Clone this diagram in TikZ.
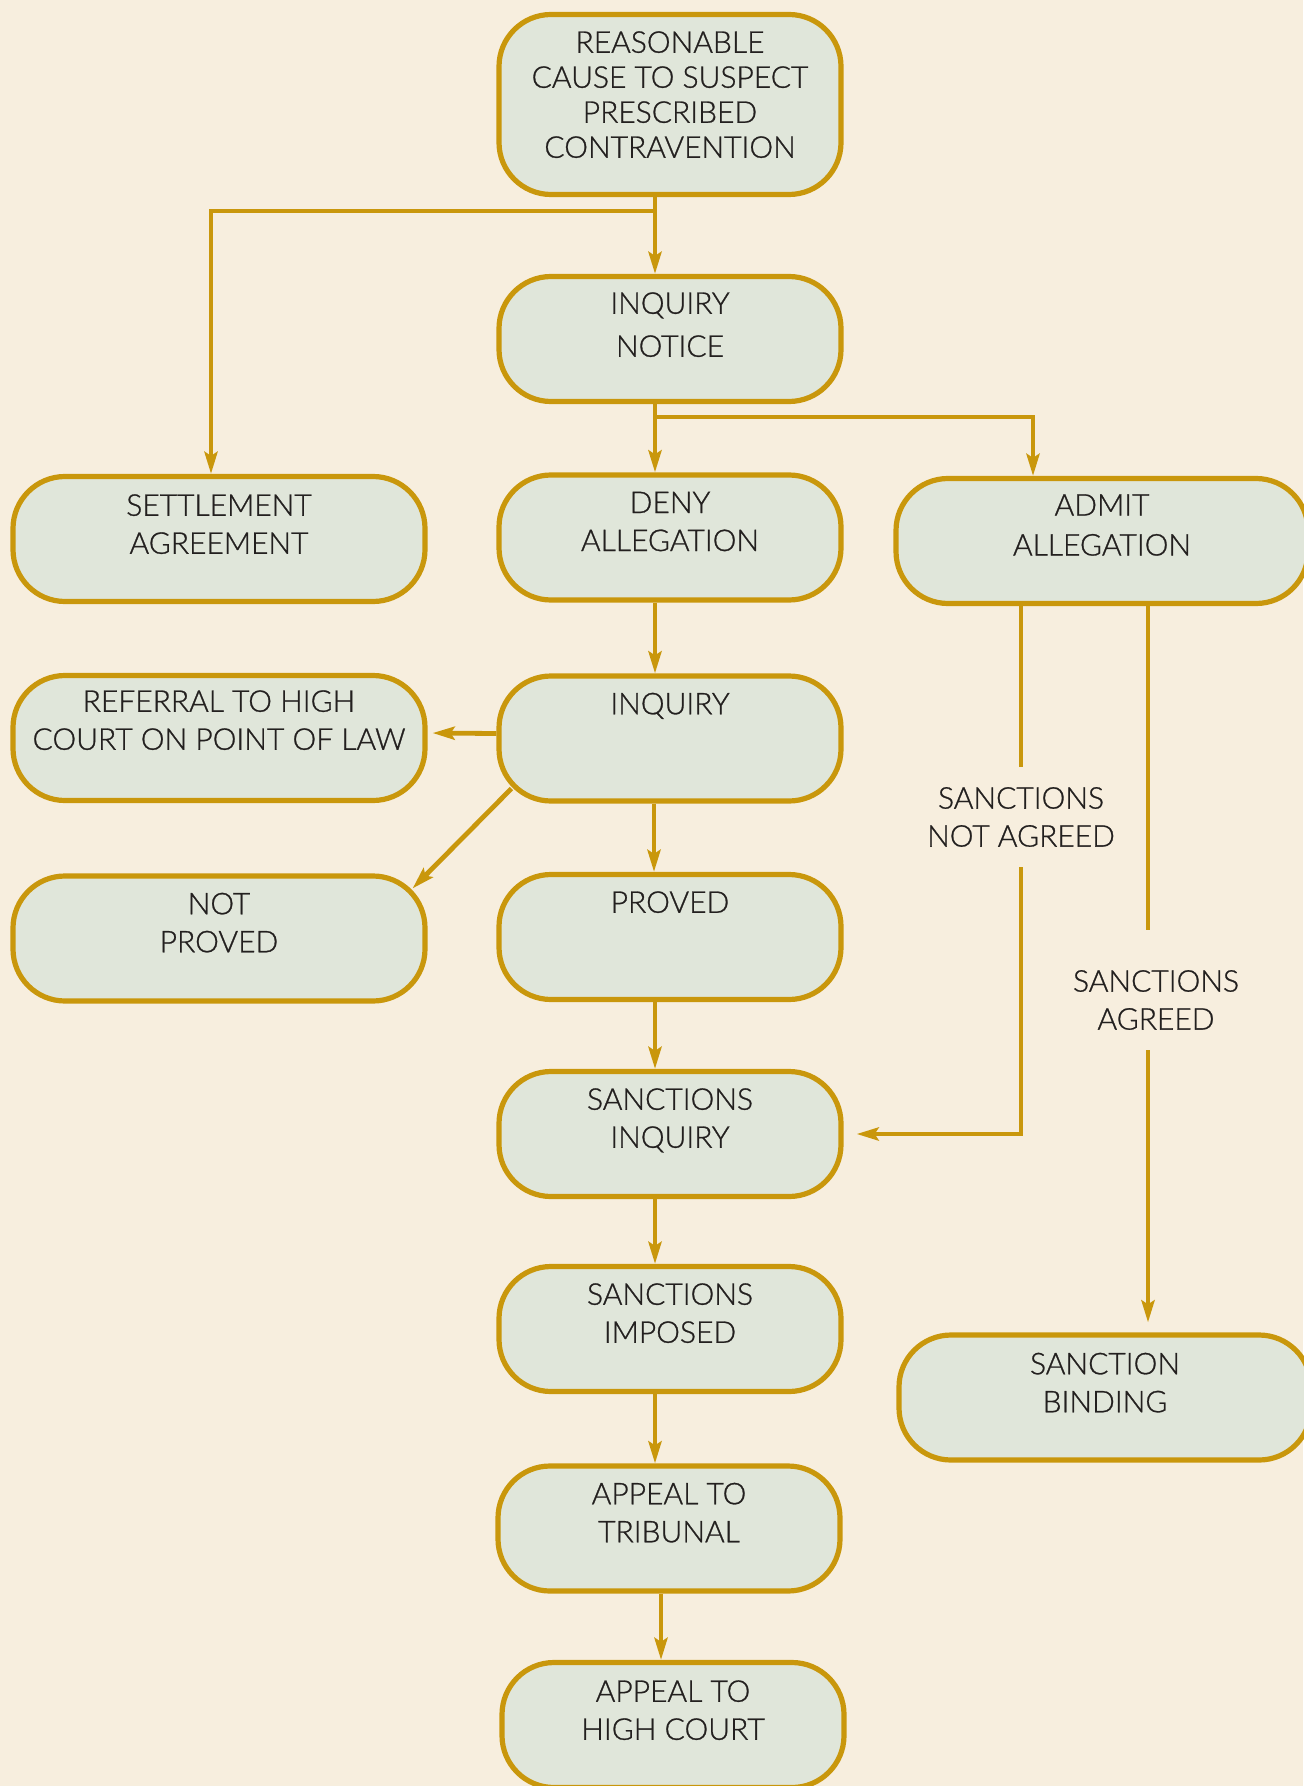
\documentclass[tikz,border=0pt]{standalone}
\usepackage{fontspec}
\setmainfont{Lato Light}[FakeBold=0.9]
\usepackage{tikz}
\usetikzlibrary{arrows.meta}
\usetikzlibrary{positioning}
\definecolor{flowgold}{RGB}{201,151,12}
\definecolor{bgcream}{RGB}{247,238,222}
\definecolor{boxgreen}{RGB}{224,230,218}
\definecolor{inkgray}{RGB}{35,32,31}
\newcommand{\boxfont}{\fontsize{15}{19}\selectfont}
\tikzstyle{box}=[draw=flowgold, fill=boxgreen, line width=2.6pt, rounded corners=26pt,
    minimum width=171pt, minimum height=62.5pt, inner sep=0pt]
\tikzstyle{widebox}=[box, minimum width=206pt]
\tikzstyle{boxtext}=[anchor=north, align=center, inner sep=0pt, text=inkgray, font=\boxfont]
\tikzstyle{note}=[align=center, inner xsep=0pt, inner ysep=10pt, text=inkgray, font=\boxfont]
\tikzstyle{link}=[draw=flowgold, line width=2.4pt]
\tikzstyle{flow}=[link, -{Stealth[length=11pt, width=6.5pt, inset=2pt]}]

\begin{document}
\begin{tikzpicture}[x=0.5pt, y=-0.5pt]
          \fill[bgcream] (0,0) rectangle (1303,1786);
          \useasboundingbox (0,0) rectangle (1303,1786);
          % middle column
          \node[box, minimum height=90pt] (cause) at (670,104.5){};
          \node[boxtext, font=\fontsize{15}{17.5}\selectfont] (cause-t) at ([yshift=-9.5pt]cause.north){REASONABLE\\CAUSE TO SUSPECT\\PRESCRIBED\\CONTRAVENTION};
          \node[box] (notice) at (670,339){};
          \node[boxtext] (notice-t) at ([yshift=-9pt]notice.north){INQUIRY\\[2.5pt]NOTICE};
          \node[box] (deny) at (670,537.5){};
          \node[boxtext] (deny-t) at ([yshift=-9.5pt]deny.north){DENY\\ALLEGATION};
          \node[box] (inquiry) at (670,738.5){};
          \node[boxtext] (inquiry-t) at ([yshift=-9.5pt]inquiry.north){INQUIRY};
          \node[box] (proved) at (670,937){};
          \node[boxtext] (proved-t) at ([yshift=-9.5pt]proved.north){PROVED};
          \node[box] (sinq) at (670,1134){};
          \node[boxtext] (sinq-t) at ([yshift=-9.5pt]sinq.north){SANCTIONS\\INQUIRY};
          \node[box] (simposed) at (670,1329){};
          \node[boxtext] (simposed-t) at ([yshift=-9.5pt]simposed.north){SANCTIONS\\IMPOSED};
          \node[box] (tribunal) at (669,1528.5){};
          \node[boxtext] (tribunal-t) at ([yshift=-9.5pt]tribunal.north){APPEAL TO\\TRIBUNAL};
          \node[box] (highcourt) at (673,1725){};
          \node[boxtext] (highcourt-t) at ([yshift=-10pt]highcourt.north){APPEAL TO\\HIGH COURT};
          % left column
          \node[widebox] (settle) at (219,539){};
          \node[boxtext] (settle-t) at ([yshift=-10pt]settle.north){SETTLEMENT\\AGREEMENT};
          \node[widebox] (referral) at (219,738){};
          \node[boxtext] (referral-t) at ([yshift=-8.5pt]referral.north){REFERRAL TO HIGH\\COURT ON POINT OF LAW};
          \node[widebox] (notproved) at (219,938.5){};
          \node[boxtext] (notproved-t) at ([yshift=-9.5pt]notproved.north){NOT\\PROVED};
          % right column
          \node[widebox] (admit) at (1102,541){};
          \node[boxtext] (admit-t) at ([yshift=-9pt]admit.north){ADMIT\\[1pt]ALLEGATION};
          \node[widebox] (binding) at (1105,1397.5){};
          \node[boxtext] (binding-t) at ([yshift=-10pt]binding.north){SANCTION\\BINDING};
          \node[note] (notagreed) at (1021,817){SANCTIONS\\NOT AGREED};
          \node[note] (agreed) at (1156,1000){SANCTIONS\\AGREED};
          % connectors
          \coordinate (split1) at (655,211);
          \coordinate (split2) at (655,417);
          \coordinate (agreedline) at ([xshift=23pt]admit.south);
          \coordinate (agreedtop) at ([yshift=10pt]agreed.north);
          \draw[flow] ([xshift=-7.5pt]cause.south) -- ([xshift=-7.5pt]notice.north);
          \draw[flow] (split1) -| ([xshift=-4pt]settle.north);
          \draw[flow] ([xshift=-7.5pt]notice.south) -- ([xshift=-7.5pt]deny.north);
          \draw[flow] (split2) -| ([xshift=-34.5pt]admit.north);
          \draw[flow] ([xshift=-7.5pt]deny.south) -- ([xshift=-7.5pt]inquiry.north);
          \draw[flow, shorten >=2.5pt] ([yshift=2.5pt]inquiry.west) -- ([yshift=2.5pt]referral.east);
          \draw[flow] ([shift={(7.5pt,7.5pt)}]inquiry.south west) -- ([shift={(-7.5pt,-7.5pt)}]notproved.north east);
          \draw[flow] ([xshift=-8pt]inquiry.south) -- ([xshift=-8pt]proved.north);
          \draw[flow] ([xshift=-7.5pt]proved.south) -- ([xshift=-7.5pt]sinq.north);
          \draw[flow] ([xshift=-7.5pt]sinq.south) -- ([xshift=-7.5pt]simposed.north);
          \draw[flow] ([xshift=-7.5pt]simposed.south) -- ([xshift=-7pt]tribunal.north);
          \draw[flow] ([xshift=-4pt]tribunal.south) -- ([xshift=-6pt]highcourt.north);
          \draw[link] (admit.south -| notagreed.north) -- (notagreed.north);
          \draw[flow, shorten >=6.5pt] (notagreed.south) |- (sinq.east);
          \draw[link] (agreedline) -- (agreedline |- agreedtop);
          \draw[flow, shorten >=5pt] (agreedline |- agreed.south) -- (agreedline |- binding.north);
        \end{tikzpicture}
\end{document}
